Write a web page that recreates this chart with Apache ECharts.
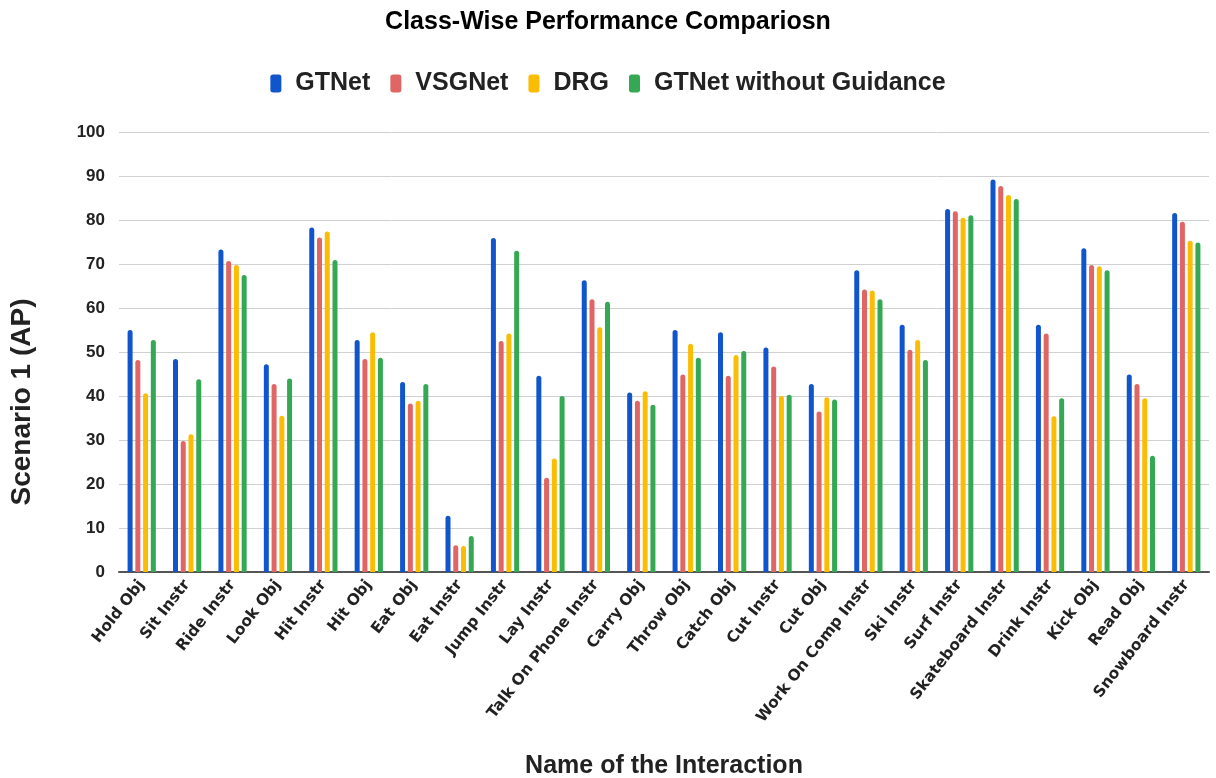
<!DOCTYPE html>
<html>
<head>
<meta charset="utf-8">
<script src="https://cdn.jsdelivr.net/npm/echarts@6/dist/echarts.min.js"></script>
<style>
  html, body { margin: 0; padding: 0; background: #fff; }
  #chart { width: 1216px; height: 778px; }
</style>
</head>
<body>
<div id="chart"></div>
<script>
// categories (x axis)
const categories = [
  "Hold Obj", "Sit Instr", "Ride Instr", "Look Obj", "Hit Instr", "Hit Obj",
  "Eat Obj", "Eat Instr", "Jump Instr", "Lay Instr", "Talk On Phone Instr", "Carry Obj",
  "Throw Obj", "Catch Obj", "Cut Instr", "Cut Obj", "Work On Comp Instr", "Ski Instr",
  "Surf Instr", "Skateboard Instr", "Drink Instr", "Kick Obj", "Read Obj", "Snowboard Instr"
];
// series values
const gtnet = [55.0, 48.4, 73.3, 47.2, 78.3, 52.7, 43.2, 12.8, 75.9, 44.6, 66.3, 40.8,
  55.0, 54.5, 51.0, 42.7, 68.6, 56.2, 82.5, 89.2, 56.2, 73.6, 44.9, 81.6];
const vsgnet = [48.2, 29.8, 70.7, 42.7, 76.0, 48.4, 38.3, 6.1, 52.5, 21.4, 62.0, 38.9,
  44.9, 44.6, 46.7, 36.5, 64.2, 50.5, 82.0, 87.7, 54.2, 69.8, 42.7, 79.6];
const drg = [40.6, 31.3, 69.8, 35.5, 77.4, 54.5, 38.9, 5.9, 54.2, 25.8, 55.6, 41.1,
  51.9, 49.3, 40.0, 39.7, 64.0, 52.7, 80.5, 85.7, 35.4, 69.5, 39.5, 75.3];
const gtnetNoGuide = [52.7, 43.8, 67.5, 44.0, 70.9, 48.7, 42.7, 8.2, 73.0, 40.0, 61.4, 38.0,
  48.7, 50.2, 40.3, 39.2, 62.0, 48.2, 81.1, 84.8, 39.5, 68.6, 26.4, 74.9];

const seriesNames = ["GTNet", "VSGNet", "DRG", "GTNet without Guidance"];
const colors = ["#1155cc", "#e06666", "#fbbc04", "#34a853"];
const allData = [gtnet, vsgnet, drg, gtnetNoGuide];

const chart = echarts.init(document.getElementById("chart"));

const font = "Liberation Sans, Arial, sans-serif";

chart.setOption({
  animation: false,
  color: colors,
  title: {
    text: "Class-Wise Performance Compariosn",
    left: "center",
    top: 5,
    textStyle: { fontFamily: font, fontSize: 25, fontWeight: "bold", color: "#000" }
  },
  legend: {
    top: 66,
    left: "center",
    itemWidth: 11,
    itemHeight: 18,
    itemGap: 20,
    icon: "roundRect",
    textStyle: {
      fontFamily: font, fontSize: 25, fontWeight: "bold", color: "#222",
      padding: [0, 0, 0, 9]
    },
    data: seriesNames
  },
  // y axis name sits lower than the plot middle in the original
  graphic: [{
    type: "text",
    x: 22,
    y: 402,
    rotation: Math.PI / 2,
    style: {
      text: "Scenario 1 (AP)",
      fontFamily: font,
      fontSize: 28,
      fontWeight: "bold",
      fill: "#222",
      align: "center",
      verticalAlign: "middle"
    }
  }],
  grid: { left: 119, right: 7, top: 132, bottom: 206, containLabel: false, outerBoundsMode: "none" },
  xAxis: {
    type: "category",
    data: categories,
    name: "Name of the Interaction",
    nameLocation: "middle",
    nameGap: 182,
    nameTextStyle: { fontFamily: font, fontSize: 25, fontWeight: "bold", color: "#222" },
    axisTick: { show: false },
    axisLine: { lineStyle: { color: "#555", width: 2 } },
    axisLabel: {
      rotate: 52,
      interval: 0,
      margin: 10,
      fontFamily: "DejaVu Sans, sans-serif",
      fontSize: 15.5,
      fontWeight: "bold",
      color: "#222"
    }
  },
  yAxis: {
    type: "value",
    min: 0,
    max: 100,
    interval: 10,
    axisLine: { show: false },
    axisTick: { show: false },
    axisLabel: { fontFamily: font, fontSize: 17, fontWeight: "bold", color: "#222", margin: 14 },
    splitLine: { lineStyle: { color: "#d0d0d0", width: 1 } }
  },
  series: seriesNames.map((name, i) => ({
    name: name,
    type: "bar",
    data: allData[i],
    barWidth: 5,
    barGap: "55%",
    itemStyle: { color: colors[i], borderRadius: [3, 3, 0, 0] }
  }))
});
</script>
</body>
</html>
